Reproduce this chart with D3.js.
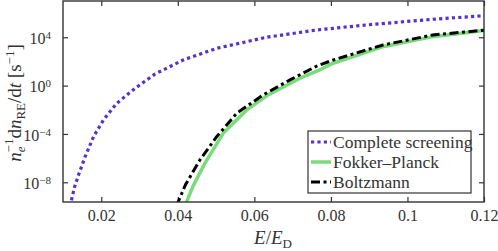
<!DOCTYPE html>
<html>
<head>
<meta charset="utf-8">
<script src="https://cdn.jsdelivr.net/npm/d3@7"></script>
</head>
<body style="margin:0">
<script>
// E/E_D values and log10 of the runaway rate
var screeningE   = [0.0118, 0.0122, 0.0130, 0.0141, 0.0158, 0.0180, 0.0206, 0.0241, 0.0289, 0.0340, 0.0414, 0.0502, 0.0632, 0.0762, 0.0893, 0.1066, 0.1200];
var screeningLog = [-10.0, -9.5, -8.4, -7.35, -5.87, -4.21, -2.83, -1.45, -0.21, 0.95, 2.12, 3.09, 4.0, 4.6, 5.02, 5.49, 5.78];

var fokkerE   = [0.0418, 0.0440, 0.0471, 0.0519, 0.0580, 0.0636, 0.0719, 0.0771, 0.0806, 0.0936, 0.1066, 0.1200];
var fokkerLog = [-10.0, -8.3, -6.41, -3.93, -2.01, -0.77, 0.61, 1.30, 1.85, 3.22, 4.05, 4.55];

var boltzE   = [0.0396, 0.0420, 0.0458, 0.0502, 0.0554, 0.0623, 0.0693, 0.0762, 0.0806, 0.0936, 0.1066, 0.1200];
var boltzLog = [-10.0, -8.2, -6.14, -4.21, -2.28, -0.77, 0.47, 1.60, 2.12, 3.36, 4.19, 4.58];

var xTicks = [0.02, 0.04, 0.06, 0.08, 0.1, 0.12];
var yTickExp = [-8, -4, 0, 4];

var legendNames = ["Complete screening", "Fokker\u2013Planck", "Boltzmann"];

var FONT = "'Times New Roman', 'Liberation Serif'";

function draw() {
    var width = 498, height = 251;
    var left = 63, right = 484, top = 1, bottom = 202;

    var svg = d3.select("body").append("svg")
        .attr("width", width)
        .attr("height", height)
        .style("display", "block")
        .style("font-family", FONT);

    var x = d3.scaleLinear().domain([0.01, 0.12]).range([left, right]);
    var y = d3.scaleLog().domain([Math.pow(10, -9.63), 1e7]).range([bottom, top]);

    svg.append("clipPath").attr("id", "clip")
        .append("rect")
        .attr("x", left).attr("y", top)
        .attr("width", right - left).attr("height", bottom - top);

    // inward ticks on all four sides, labels added by hand
    var xAxis = d3.axisBottom(x).tickValues(xTicks).tickSizeInner(-5).tickSizeOuter(0).tickFormat("");
    var gx = svg.append("g").attr("transform", "translate(0," + bottom + ")").call(xAxis);
    gx.select(".domain").remove();
    gx.selectAll(".tick").append("text")
        .attr("y", 8).attr("dy", "0.71em")
        .attr("text-anchor", "middle")
        .attr("fill", "#333")
        .style("font-family", FONT)
        .style("font-size", "16px")
        .text(function(d) { return String(+d.toFixed(2)); });

    var gxTop = svg.append("g").attr("transform", "translate(0," + top + ")")
        .call(d3.axisTop(x).tickValues(xTicks).tickSizeInner(-5).tickSizeOuter(0).tickFormat(""));
    gxTop.select(".domain").remove();

    var yVals = yTickExp.map(function(e) { return Math.pow(10, e); });
    var yAxis = d3.axisLeft(y).tickValues(yVals).tickSizeInner(-5).tickSizeOuter(0).tickFormat("");
    var gy = svg.append("g").attr("transform", "translate(" + left + ",0)").call(yAxis);
    gy.select(".domain").remove();
    gy.selectAll(".tick").append("text")
        .attr("x", -12).attr("dy", "0.38em")
        .attr("text-anchor", "end")
        .attr("fill", "#333")
        .style("font-family", FONT)
        .style("font-size", "16px")
        .each(function(d) {
            var t = d3.select(this);
            t.append("tspan").text("10");
            t.append("tspan").attr("dy", "-0.45em").style("font-size", "11px")
                .text(String(Math.round(Math.log10(d))).replace("-", "\u2212"));
        });

    var gyRight = svg.append("g").attr("transform", "translate(" + right + ",0)")
        .call(d3.axisRight(y).tickValues(yVals).tickSizeInner(-5).tickSizeOuter(0).tickFormat(""));
    gyRight.select(".domain").remove();

    svg.selectAll("g").attr("font-family", null);
    svg.selectAll(".tick line").attr("stroke", "#333").attr("stroke-width", 1.2);

    // curves
    var line = d3.line()
        .x(function(d) { return x(d[0]); })
        .y(function(d) { return y(Math.pow(10, d[1])); });

    var plot = svg.append("g").attr("clip-path", "url(#clip)");

    plot.append("path")
        .attr("d", line(d3.zip(fokkerE, fokkerLog)))
        .attr("fill", "none").attr("stroke", "#78dc78").attr("stroke-width", 3.5);

    plot.append("path")
        .attr("d", line(d3.zip(boltzE, boltzLog)))
        .attr("fill", "none").attr("stroke", "#000").attr("stroke-width", 3)
        .attr("stroke-dasharray", "9,3.5,3,3.5");

    plot.append("path")
        .attr("d", line(d3.zip(screeningE, screeningLog)))
        .attr("fill", "none").attr("stroke", "#5533cc").attr("stroke-width", 3.2)
        .attr("stroke-dasharray", "3.2,3.2");

    // frame
    svg.append("rect")
        .attr("x", left).attr("y", top)
        .attr("width", right - left).attr("height", bottom - top)
        .attr("fill", "none").attr("stroke", "#333").attr("stroke-width", 1.4);

    // legend
    var lg = svg.append("g");
    lg.append("rect")
        .attr("x", 308).attr("y", 131).attr("width", 163).attr("height", 62)
        .attr("fill", "#fff").attr("stroke", "#333").attr("stroke-width", 1.2);
    var styles = [
        { color: "#5533cc", w: 3.2, dash: "3.2,3.2" },
        { color: "#78dc78", w: 3.5, dash: null },
        { color: "#000", w: 3, dash: "9,3.5,3,3.5" }
    ];
    legendNames.forEach(function(name, i) {
        var yy = 142 + i * 20;
        lg.append("line")
            .attr("x1", 311).attr("x2", 331).attr("y1", yy).attr("y2", yy)
            .attr("stroke", styles[i].color).attr("stroke-width", styles[i].w)
            .attr("stroke-dasharray", styles[i].dash);
        lg.append("text")
            .attr("x", 333).attr("y", yy).attr("dy", "0.35em")
            .attr("fill", "#333")
            .style("font-family", FONT)
            .style("font-size", "17.5px")
            .text(name);
    });

    // x label
    var xl = svg.append("text")
        .attr("x", 273).attr("y", 244)
        .attr("text-anchor", "middle")
        .attr("fill", "#333")
        .style("font-family", FONT)
        .style("font-size", "19px");
    xl.append("tspan").style("font-style", "italic").text("E");
    xl.append("tspan").text("/");
    xl.append("tspan").style("font-style", "italic").text("E");
    xl.append("tspan").attr("dy", "4").style("font-size", "13px").text("D");

    // y label
    var yl = svg.append("text")
        .attr("transform", "translate(21,103) rotate(-90)")
        .attr("text-anchor", "middle")
        .attr("fill", "#333")
        .style("font-family", FONT)
        .style("font-size", "19px");
    yl.append("tspan").style("font-style", "italic").text("n");
    yl.append("tspan").attr("dy", "4").style("font-size", "13px").style("font-style", "italic").text("e");
    yl.append("tspan").attr("dy", "-12").attr("dx", "-6").style("font-size", "13px").text("\u22121");
    yl.append("tspan").attr("dy", "8").text("d");
    yl.append("tspan").style("font-style", "italic").text("n");
    yl.append("tspan").attr("dy", "4").style("font-size", "13px").text("RE");
    yl.append("tspan").attr("dy", "-4").text("/d");
    yl.append("tspan").style("font-style", "italic").text("t");
    yl.append("tspan").text("\u00a0[s");
    yl.append("tspan").attr("dy", "-7").style("font-size", "13px").text("\u22121");
    yl.append("tspan").attr("dy", "7").text("]");
}

draw();
</script>
</body>
</html>
